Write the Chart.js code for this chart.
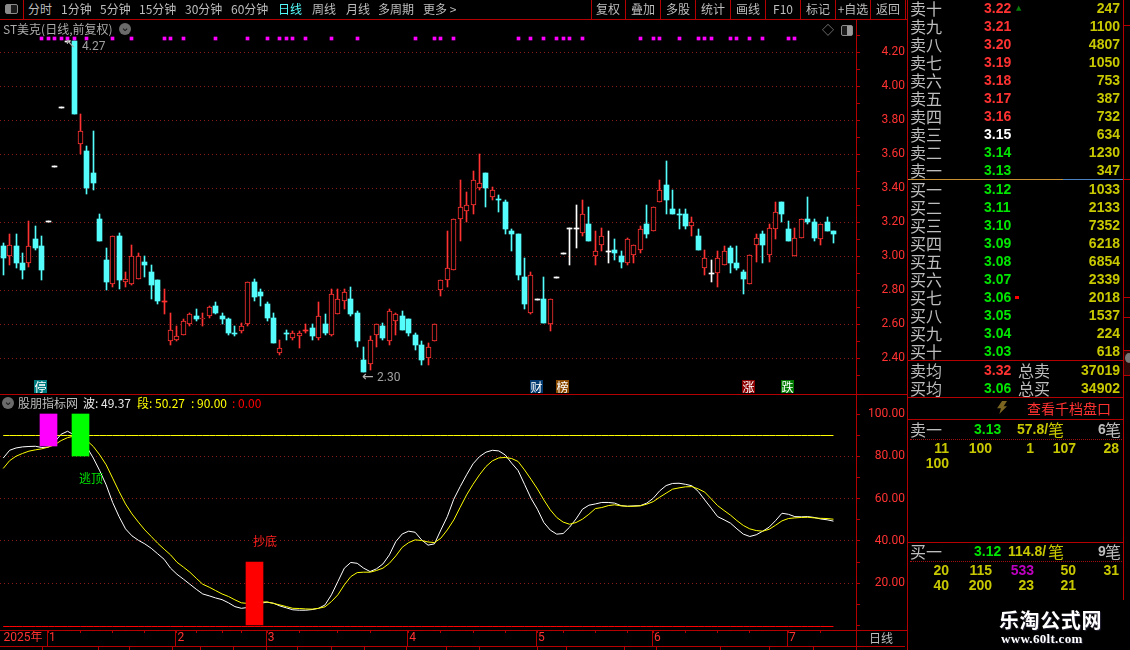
<!DOCTYPE html>
<html><head><meta charset="utf-8">
<script src="https://cdn.jsdelivr.net/npm/chart.js@4/dist/chart.umd.min.js"></script>
<style>
html,body{margin:0;padding:0;background:#000;width:1130px;height:650px;overflow:hidden}
#stage{position:relative;width:1130px;height:650px;background:#000;overflow:hidden;font-family:"Noto Sans CJK SC","Liberation Sans",sans-serif}
canvas{position:absolute;display:block}
.t{position:absolute;white-space:nowrap;height:20px;line-height:20px}
.b{position:absolute}
</style></head><body><div id="stage">
<canvas id="priceChart" width="905" height="375" style="left:0;top:19px;width:905px;height:375px"></canvas>
<canvas id="oscChart" width="905" height="255" style="left:0;top:395px;width:905px;height:255px"></canvas>
</div>
<script>
// ---------- candlestick values (one entry per trading day) ----------
const opens=[3.06,3.00,3.06,2.96,2.96,3.10,3.06,3.21,3.53,3.88,4.27,4.27,3.66,3.62,3.49,3.22,2.98,2.84,3.12,2.85,2.84,2.87,2.97,2.91,2.86,2.74,2.50,2.51,2.54,2.60,2.65,2.63,2.65,2.71,2.65,2.63,2.55,2.56,2.60,2.85,2.79,2.72,2.64,2.43,2.55,2.52,2.53,2.57,2.58,2.52,2.60,2.54,2.66,2.74,2.75,2.67,2.39,2.37,2.54,2.59,2.50,2.62,2.65,2.63,2.54,2.48,2.40,2.50,2.80,2.86,2.92,3.22,3.27,3.30,3.40,3.49,3.35,3.34,3.32,3.15,3.13,2.88,2.67,2.75,2.75,2.60,2.88,3.02,3.17,3.17,3.14,3.19,3.00,3.07,3.03,3.04,3.00,2.96,3.01,3.04,3.19,3.15,3.32,3.42,3.28,3.25,3.25,3.18,3.12,2.93,2.90,2.90,2.95,3.05,2.96,2.91,2.84,3.07,3.13,3.01,3.16,3.32,3.16,3.00,3.11,3.22,3.20,3.10,3.20,3.15];
const highs=[3.08,3.13,3.13,3.02,3.21,3.18,3.12,3.21,3.53,3.88,4.27,4.27,3.84,3.65,3.74,3.25,3.05,3.12,3.14,2.91,3.07,3.02,3.00,2.95,2.86,2.81,2.67,2.59,2.63,2.67,2.69,2.67,2.71,2.73,2.67,2.64,2.59,2.61,2.85,2.87,2.81,2.73,2.67,2.51,2.57,2.56,2.56,2.60,2.60,2.73,2.66,2.81,2.81,2.81,2.82,2.68,2.47,2.53,2.60,2.61,2.69,2.67,2.68,2.63,2.55,2.50,2.49,2.60,2.86,3.15,3.22,3.45,3.38,3.50,3.60,3.49,3.41,3.36,3.33,3.16,3.13,2.99,2.91,2.75,2.88,2.75,2.88,3.02,3.17,3.30,3.33,3.29,3.15,3.17,3.15,3.10,3.03,3.11,3.07,3.18,3.30,3.29,3.45,3.56,3.39,3.28,3.28,3.23,3.16,3.04,2.98,3.03,3.06,3.06,3.06,2.92,3.01,3.13,3.15,3.19,3.32,3.32,3.21,3.17,3.22,3.35,3.22,3.19,3.23,3.15];
const lows=[2.89,2.95,2.93,2.87,2.94,3.04,2.86,3.21,3.53,3.88,4.27,3.84,3.60,3.37,3.39,3.09,2.80,2.82,2.81,2.82,2.83,2.87,2.88,2.75,2.72,2.66,2.48,2.50,2.54,2.59,2.62,2.59,2.64,2.66,2.60,2.54,2.53,2.55,2.59,2.74,2.71,2.62,2.49,2.42,2.51,2.51,2.46,2.55,2.51,2.51,2.54,2.53,2.66,2.69,2.65,2.47,2.32,2.33,2.47,2.51,2.48,2.54,2.57,2.53,2.45,2.36,2.36,2.50,2.77,2.82,2.92,3.09,3.20,3.25,3.39,3.29,3.33,3.26,3.13,3.03,2.86,2.69,2.66,2.75,2.61,2.56,2.88,3.02,2.95,3.05,3.12,3.09,2.95,3.03,2.96,2.98,2.93,2.95,2.96,3.02,3.11,3.15,3.32,3.25,3.25,3.16,3.16,3.12,3.04,2.89,2.85,2.82,2.95,2.90,2.92,2.78,2.84,2.97,2.96,2.97,3.10,3.20,3.09,3.00,3.11,3.19,3.09,3.07,3.15,3.08];
const closes=[2.99,3.07,2.96,2.92,3.06,3.05,2.92,3.21,3.53,3.88,4.27,3.84,3.74,3.40,3.43,3.09,2.85,3.12,2.86,2.87,3.00,3.00,2.95,2.83,2.74,2.74,2.57,2.53,2.62,2.66,2.63,2.64,2.70,2.67,2.63,2.55,2.55,2.59,2.85,2.76,2.77,2.64,2.49,2.46,2.55,2.55,2.55,2.57,2.53,2.65,2.55,2.78,2.75,2.79,2.66,2.50,2.32,2.51,2.60,2.52,2.68,2.66,2.57,2.55,2.48,2.39,2.47,2.60,2.86,2.93,3.22,3.29,3.30,3.45,3.43,3.40,3.39,3.34,3.16,3.13,2.89,2.72,2.89,2.75,2.61,2.75,2.88,3.02,3.17,3.17,3.25,3.09,3.03,3.12,3.03,3.02,2.97,3.10,3.07,3.16,3.13,3.29,3.39,3.33,3.25,3.25,3.18,3.20,3.04,2.99,2.90,2.99,3.03,2.96,2.93,2.87,3.01,3.11,3.07,3.17,3.26,3.25,3.09,3.11,3.22,3.20,3.11,3.19,3.15,3.13];
const redDoji=[25,47];
const cyanDoji=[36,44,77,105,129];
const signalDays=[6,7,8,9,10,11,13,17,20,25,26,28,33,38,41,43,44,45,47,51,55,64,67,68,70,80,82,84,86,87,88,90,99,101,102,105,108,109,110,113,114,116,118,122,123];
const signalRow=[4.273,4.291];
const totalSlots=133;
const priceTicks={step:0.1,min:2.191,max:4.397};

// ---------- oscillator values ----------
const waveLine=[79.2,82.9,84.0,84.5,84.7,84.8,84.2,84.4,86.9,90.5,91.9,90.2,86.3,84.4,79.2,73.2,66.5,58.2,51.5,45.7,42.4,40.3,38.6,36.5,33.9,31.3,27.1,24.2,21.9,19.5,17.1,14.9,14.0,13.0,12.2,10.7,8.9,8.1,8.5,9.6,10.5,11.0,10.5,9.2,8.3,7.4,7.2,7.2,7.5,8.1,9.7,14.5,20.8,27.1,29.8,29.4,27.1,25.5,26.8,29.1,33.4,39.7,43.3,44.6,44.1,40.5,38.0,38.6,45.2,51.5,59.7,65.7,71.3,76.5,79.9,82.0,82.9,82.6,80.7,76.8,73.3,66.8,60.2,55.0,48.7,45.1,43.2,43.5,46.5,50.4,55.0,56.9,57.5,58.2,58.2,57.9,56.7,56.4,56.6,56.7,57.9,60.2,63.7,66.2,67.2,67.3,66.8,66.1,63.4,59.4,55.5,51.5,50.0,48.4,45.7,43.2,42.1,42.9,44.6,46.5,49.6,53.1,52.6,51.5,51.4,51.5,51.1,50.4,50.0,49.37];
const segmentLine=[74.3,78.0,80.1,81.4,82.5,83.1,83.6,84.4,85.5,87.5,88.9,89.6,89.1,87.5,84.7,80.7,76.0,69.7,63.4,57.5,52.8,48.9,45.2,42.1,38.9,36.1,33.4,29.9,27.6,25.2,22.3,19.5,18.1,16.5,14.9,13.7,12.1,10.7,10.4,10.5,11.1,11.1,10.4,9.7,8.9,8.1,8.0,7.8,7.7,8.1,8.8,11.3,14.5,19.2,23.1,25.0,25.2,25.2,26.0,27.1,29.4,32.9,37.0,39.2,40.5,40.2,39.5,39.2,41.3,45.2,49.9,55.9,61.8,66.8,71.3,75.2,77.9,79.3,79.5,79.0,77.6,73.6,69.2,64.6,59.4,54.7,51.1,48.9,47.9,48.7,50.3,52.6,55.3,55.8,56.7,57.1,56.6,56.4,56.4,56.6,57.4,58.6,60.7,62.6,64.5,65.1,65.6,65.7,64.6,63.1,59.9,56.7,54.4,52.2,49.6,47.3,45.7,44.9,44.6,45.5,47.4,49.5,50.6,50.9,51.1,51.2,50.9,50.7,50.6,50.27];
const upperLevel=90, lowerLevel=0;
const warnDay=7, warnBand=[85,100];
const escapeDay=12, escapeBand=[80,100];
const bottomDay=39, bottomBand=[0,30];
const oscTicks={step:10,min:-2.17,max:109.07};

// ---------- time axis ----------
const monthTicks={2:'\u00a0\u00a02025年',7:'1',27:'2',41:'3',63:'4',83:'5',101:'6',122:'7'};
const minorTicks=[12,17,22,30,34,37,46,52,57,68,73,78,87,92,97,106,111,116,127];

// ---------- order book ----------
const sellNames=['卖十','卖九','卖八','卖七','卖六','卖五','卖四','卖三','卖二','卖一'];
const sellPrices=['3.22','3.21','3.20','3.19','3.18','3.17','3.16','3.15','3.14','3.13'];
const sellVols=[247,1100,4807,1050,753,387,732,634,1230,347];
const sellColors=['#ff3232','#ff3232','#ff3232','#ff3232','#ff3232','#ff3232','#ff3232','#ffffff','#00e600','#00e600'];
const buyNames=['买一','买二','买三','买四','买五','买六','买七','买八','买九','买十'];
const buyPrices=['3.12','3.11','3.10','3.09','3.08','3.07','3.06','3.05','3.04','3.03'];
const buyVols=[1033,2133,7352,6218,6854,2339,2018,1537,224,618];
const askQueue=[[11,100,1,107,28],[100]];
const bidQueue=[[20,115,533,50,31],[40,200,23,21]];
const queueEdges=[949,992,1034,1076,1119];

// ---------- colours ----------
const UP='#ff3232', DOWN='#54fcfc', FLAT='#ffffff', AXIS='#b40000', GRID='#8c1a1a', LABEL='#ff3232';
const AXISFONT='Roboto,"Noto Sans CJK SC"';

const dayIds=Array.from({length:totalSlots},(_,i)=>String(i));
function dayColor(i){
  if(closes[i]>opens[i]||redDoji.includes(i))return UP;
  if(closes[i]<opens[i]||cyanDoji.includes(i))return DOWN;
  return FLAT;
}
const snapMarks={id:'snapMarks',afterDatasetsUpdate(chart){
  chart.data.datasets.forEach((d,k)=>{
    const els=chart.getDatasetMeta(k).data;
    if(d.type==='line'){
      if(d.rowRound)els.forEach(el=>{el.y=d.rowRound(el.y)+.5;});
      return;
    }
    els.forEach(el=>{
      if(el.skip||el.y==null||isNaN(el.y))return;
      el.x=Math.floor(el.x)+.5;
      el.y=Math.round(el.y);el.base=Math.round(el.base);
      if(Math.abs(el.y-el.base)<1)el.base=el.y+1;
    });
  });
}};
const sizeAxis=(w)=>s=>{s.width=w;s.paddingTop=0;s.paddingBottom=0;};

new Chart(document.getElementById('priceChart'),{
  type:'bar',
  data:{labels:dayIds,datasets:[
    {label:'signal',data:signalDays.reduce((a,d)=>{a[d]=signalRow;return a;},new Array(130).fill(null)),backgroundColor:'#ff00ff',barThickness:3,grouped:false,order:0},
    {label:'body',data:opens.map((o,i)=>[o,closes[i]]),barThickness:5,grouped:false,order:1,borderWidth:ctx=>(closes[ctx.dataIndex]>opens[ctx.dataIndex]?1:0),borderSkipped:false,borderColor:UP,
      backgroundColor:ctx=>(closes[ctx.dataIndex]>opens[ctx.dataIndex]?'#000000':dayColor(ctx.dataIndex))},
    {label:'wick',data:lows.map((l,i)=>[l,highs[i]]),barThickness:1,grouped:false,order:2,backgroundColor:ctx=>dayColor(ctx.dataIndex)}
  ]},
  options:{responsive:false,animation:false,devicePixelRatio:1,layout:{padding:0},
    plugins:{legend:{display:false},tooltip:{enabled:false}},
    scales:{
      x:{display:false,offset:true},
      y:{position:'right',min:priceTicks.min,max:priceTicks.max,afterFit:sizeAxis(49),
        border:{display:true,color:AXIS,dash:[1,3]},
        grid:{color:c=>(c.tick&&Math.round(c.tick.value*10)%2===0&&c.tick.value>2.3)?GRID:'rgba(0,0,0,0)',tickColor:c=>(c.tick&&c.tick.value>2.25)?AXIS:'rgba(0,0,0,0)',tickBorderDash:[],tickLength:4},
        ticks:{stepSize:priceTicks.step,includeBounds:false,autoSkip:false,color:LABEL,padding:19,crossAlign:'far',font:{family:AXISFONT,size:12},
          callback:v=>(Math.round(v*10)%2===0&&v>2.3)?v.toFixed(2):''}
      }
    }
  },
  plugins:[snapMarks]
});

function sparse(day,band){const a=new Array(130).fill(null);a[day]=band;return a;}
const monthSeparators={id:'monthSeparators',afterDraw(chart){
  const s=chart.scales.x,c=chart.ctx;c.save();c.strokeStyle=AXIS;c.lineWidth=1;c.beginPath();
  Object.keys(monthTicks).forEach(k=>{if(k==='2')return;const x=Math.floor(s.getPixelForValue(+k))+.5-1;c.moveTo(x,s.top);c.lineTo(x,s.top+16);});
  c.moveTo(0,s.top+16.5);c.lineTo(905,s.top+16.5);c.stroke();c.restore();
}};
new Chart(document.getElementById('oscChart'),{
  type:'bar',
  data:{labels:dayIds,datasets:[
    {type:'bar',label:'warn',data:sparse(warnDay,warnBand),backgroundColor:'#ff00ff',barThickness:17,grouped:false,order:0},
    {type:'bar',label:'escape',data:sparse(escapeDay,escapeBand),backgroundColor:'#00ff00',barThickness:17,grouped:false,order:0},
    {type:'bar',label:'bottom',data:sparse(bottomDay,bottomBand),backgroundColor:'#ff0000',barThickness:17,grouped:false,order:0},
    {type:'line',label:'波',data:waveLine,borderColor:'#ffffff',borderWidth:1,pointRadius:0,tension:0,order:3},
    {type:'line',label:'段',data:segmentLine,borderColor:'#ffff00',borderWidth:1,pointRadius:0,tension:0,order:2},
    {type:'line',label:'上轨',data:waveLine.map(()=>upperLevel),borderColor:'#ffff00',borderWidth:1,pointRadius:0,order:1,rowRound:Math.floor},
    {type:'line',label:'下轨',data:waveLine.map(()=>lowerLevel),borderColor:'#ff0000',borderWidth:1,pointRadius:0,order:1,rowRound:Math.ceil}
  ]},
  options:{responsive:false,animation:false,devicePixelRatio:1,layout:{padding:0},
    plugins:{legend:{display:false},tooltip:{enabled:false}},
    scales:{
      x:{offset:true,afterFit:s=>{s.height=20;s.paddingLeft=0;s.paddingRight=0;},
        border:{display:true,color:AXIS},
        grid:{display:true,drawOnChartArea:false,offset:false,tickLength:3,tickColor:c=>(c.tick&&(monthTicks[c.index]&&c.index!==2||minorTicks.includes(c.index)))?AXIS:'rgba(0,0,0,0)'},
        ticks:{autoSkip:false,maxRotation:0,minRotation:0,padding:-2,labelOffset:4,color:LABEL,font:{family:AXISFONT,size:12},
          callback:(v,i)=>monthTicks[i]||''}
      },
      y:{position:'right',min:oscTicks.min,max:oscTicks.max,afterFit:sizeAxis(49),
        border:{display:true,color:AXIS,dash:[1,3]},
        grid:{color:c=>(c.tick&&[20,40,60,80].includes(Math.round(c.tick.value)))?GRID:'rgba(0,0,0,0)',tickColor:AXIS,tickBorderDash:[],tickLength:4},
        ticks:{stepSize:oscTicks.step,includeBounds:false,autoSkip:false,color:LABEL,padding:6,crossAlign:'far',font:{family:AXISFONT,size:12},
          callback:v=>{const r=Math.round(v);return (r>0&&r%20===0)?r.toFixed(2):'';}}
      }
    }
  },
  plugins:[snapMarks,monthSeparators]
});

// ---------- surrounding terminal furniture (real text) ----------
const stage=document.getElementById('stage');
function T(x,cy,txt,color,size,o){o=o||{};const e=document.createElement('div');e.className='t';e.textContent=txt;
  e.style.top=(cy-10)+'px';e.style.color=color;e.style.fontSize=size+'px';
  if(o.right!==undefined){e.style.right=(1130-o.right)+'px';}else if(o.center){e.style.left=(x-60)+'px';e.style.width='120px';e.style.textAlign='center';}else{e.style.left=x+'px';}
  if(o.font)e.style.fontFamily=o.font;if(o.weight)e.style.fontWeight=o.weight;if(o.css)e.style.cssText+=o.css;stage.appendChild(e);return e;}
function B(x,y,w,h,color,css){const e=document.createElement('div');e.className='b';e.style.cssText='left:'+x+'px;top:'+y+'px;width:'+w+'px;height:'+h+'px;background:'+color+';'+(css||'');stage.appendChild(e);return e;}
const GRAY='#bdbdbd',NUM='"Liberation Sans"',VOL='#c8c800',GREEN='#00e600',NARROW='Roboto';

// frame lines
B(0,19,907,1,AXIS);B(0,394,907,1,AXIS);B(0,630,907,1,AXIS);
B(907,0,1,650,AXIS);B(1123,0,1,600,AXIS);
B(23,0,1,19,AXIS);
[591,625,660,695,730,765,800,835,870,905].forEach(x=>B(x,0,1,19,AXIS));
B(856,19,1,627,AXIS);
[42,98,129,172,200,233,266,297,331,364,406,446,479,537,566,624,656,720,769,813,856].forEach(x=>B(x,647,1,3,AXIS));
[25,179,297,317,350,375].forEach(y=>B(1124,y,6,1,AXIS));
B(1124,351,6,24,'#2a0808');B(1125,353,8,10,'#777','border-radius:50%');

// tool bar
[[28,'分时'],[61,'1分钟'],[100,'5分钟'],[139,'15分钟'],[185,'30分钟'],[231,'60分钟'],[312,'周线'],[346,'月线'],[378,'多周期'],[423,'更多 >']].forEach(a=>T(a[0],9,a[1],GRAY,12));
T(278,9,'日线','#54fcfc',12);
[[608,'复权'],[643,'叠加'],[678,'多股'],[713,'统计'],[748,'画线'],[783,'F10'],[818,'标记'],[853,'+自选'],[888,'返回']].forEach(a=>T(a[0],9,a[1],GRAY,12,{center:true}));
B(5,4,11,8,'#1a1a1a','border:1px solid #8a8a8a;border-radius:2px');B(6,5,5,8,'#8a8a8a');
B(841,25,10,9,'#1a1a1a','border:1px solid #8a8a8a;border-radius:2px');B(847,26,5,9,'#9a9a9a');
T(828,30,'◇','#8a8a8a',12,{center:true});

// panel titles
T(3,29,'ST美克(日线,前复权)','#aaaaaa',12);
function chevron(x,y){B(x-6,y-6,12,12,'#6a6a6a','border-radius:50%');T(x,y-1,'⌄','#111',11,{center:true,font:'"DejaVu Sans"'});}
chevron(125,29);chevron(8,403);
T(18,403,'股朋指标网','#bdbdbd',12);
T(83,403,'波: 49.37','#e8e8e8',12);
T(137,403,'段: 50.27','#ffff00',12);
T(191,403,': 90.00','#ffff00',12);
T(232,403,': 0.00','#ff0000',12);

// value marks on the charts
T(65,44,'↖','#b0b0b0',13,{font:'"DejaVu Sans"'});T(82,46,'4.27','#a0a0a0',12,{font:NARROW});
T(362,376,'←','#b0b0b0',14,{font:'"DejaVu Sans"'});T(377,377,'2.30','#a0a0a0',12,{font:NARROW});
[[34,'停','#007c80','#fff'],[530,'财','#003a70','#fff'],[556,'榜','#8a4a00','#fff'],[742,'涨','#8a0000','#fff'],[781,'跌','#007a00','#fff']].forEach(a=>{
  T(a[0],386.5,a[1],a[3],12,{css:'width:13px;height:13px;line-height:13px;top:380px;text-align:center;background:'+a[2]});
});
T(79,478,'逃顶','#00e600',12);
T(253,541,'抄底','#ff2020',12);
T(869,638,'日线',GRAY,12);

// order book
sellNames.forEach((n,i)=>{const y=8+18*i;T(910,y,n,GRAY,16);T(984,y,sellPrices[i],sellColors[i],14,{font:NUM,weight:'bold'});T(0,y,String(sellVols[i]),VOL,14,{font:NUM,weight:'bold',right:1120});});
B(908,179,155,1,'#c89030');B(1063,179,60,1,'#4a80c0');
buyNames.forEach((n,i)=>{const y=189+18*i;T(910,y,n,GRAY,16);T(984,y,buyPrices[i],GREEN,14,{font:NUM,weight:'bold'});T(0,y,String(buyVols[i]),VOL,14,{font:NUM,weight:'bold',right:1120});});
T(1016,8,'▲','#0a7a0a',7,{font:'"DejaVu Sans"'});B(1015,296,4,3,'#ff0000');
B(908,360,215,1,AXIS);
T(910,370,'卖均',GRAY,16);T(984,370,'3.32','#ff3232',14,{font:NUM,weight:'bold'});T(1018,370,'总卖',GRAY,16);T(0,370,'37019',VOL,14,{font:NUM,weight:'bold',right:1120});
T(910,388,'买均',GRAY,16);T(984,388,'3.06',GREEN,14,{font:NUM,weight:'bold'});T(1018,388,'总买',GRAY,16);T(0,388,'34902',VOL,14,{font:NUM,weight:'bold',right:1120});
B(908,397,215,1,AXIS);
B(996,401,11,13,'#7a6420','clip-path:polygon(55% 0,100% 0,70% 40%,100% 40%,30% 100%,45% 55%,10% 55%)');
T(1027,408,'查看千档盘口','#ff3232',14);
B(908,419,215,1,AXIS);
T(910,429,'卖一',GRAY,16);T(974,429,'3.13',GREEN,14,{font:NUM,weight:'bold'});T(1017,429,'57.8/',VOL,14,{font:NUM,weight:'bold'});T(1048,429,'笔',VOL,16);T(1098,429,'6',GRAY,14,{font:NUM,weight:'bold'});T(1105,429,'笔',GRAY,16);
B(910,439,212,0,'transparent','border-top:1px dotted #a01010');
askQueue.forEach((row,r)=>row.forEach((v,c)=>T(0,448+15*r,String(v),VOL,14,{font:NUM,weight:'bold',right:queueEdges[c]})));
B(908,542,215,1,AXIS);
T(910,551,'买一',GRAY,16);T(974,551,'3.12',GREEN,14,{font:NUM,weight:'bold'});T(1008,551,'114.8/',VOL,14,{font:NUM,weight:'bold'});T(1048,551,'笔',VOL,16);T(1098,551,'9',GRAY,14,{font:NUM,weight:'bold'});T(1105,551,'笔',GRAY,16);
B(910,561,212,0,'transparent','border-top:1px dotted #a01010');
bidQueue.forEach((row,r)=>row.forEach((v,c)=>T(0,570+15*r,String(v),v===533?'#c000c0':VOL,14,{font:NUM,weight:'bold',right:queueEdges[c]})));

// watermark
T(999,620,'乐淘公式网','#ffffff',20,{font:'"Noto Sans CJK SC"',weight:'bold',css:'letter-spacing:0.6px;text-shadow:1px 1px 1px #223'});
T(1001,639,'www.60lt.com','#ffffff',13,{font:'"Liberation Serif"',weight:'bold',css:'text-shadow:1px 1px 1px #223;letter-spacing:0.3px'});
</script></body></html>
